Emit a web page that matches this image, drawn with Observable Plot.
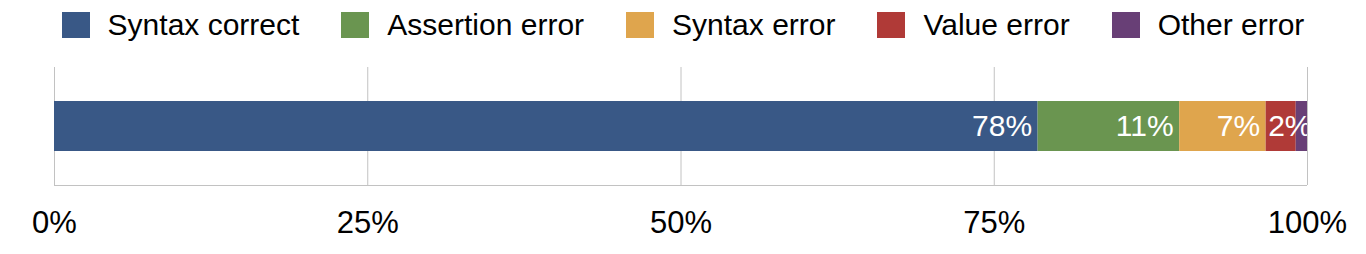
<!DOCTYPE html>
<html>
<head>
<meta charset="utf-8">
<script src="https://cdn.jsdelivr.net/npm/d3@7"></script>
<script src="https://cdn.jsdelivr.net/npm/@observablehq/plot@0.6"></script>
<style>
  html, body { margin: 0; padding: 0; background: #fff; }
  body { width: 1366px; height: 254px; overflow: hidden; font-family: "Liberation Sans", Arial, Helvetica, sans-serif; }
  #legend { height: 50px; box-sizing: border-box; padding-top: 8px; display: flex; justify-content: center; gap: 42px; }
  .item { display: flex; align-items: center; height: 34px; }
  .sw { width: 28px; height: 26px; margin-right: 18px; }
  .lab { font-size: 30px; line-height: 34px; color: #000; white-space: nowrap; }
</style>
</head>
<body>
<div id="legend"></div>
<div id="chart"></div>
<script>
const categories = ["Syntax correct", "Assertion error", "Syntax error", "Value error", "Other error"];
const values = [78.5, 11.3, 6.9, 2.4, 0.9];
const labels = ["78%", "11%", "7%", "2%", ""];
const colors = ["#395886", "#6a9550", "#dfa54d", "#b03a37", "#683f76"];
const ticks = [0, 25, 50, 75, 100];

const ends = d3.cumsum(values);
const rows = categories.map((c, i) => ({
  category: c, value: values[i], label: labels[i],
  x1: ends[i] - values[i], x2: ends[i]
}));

const legend = document.getElementById("legend");
categories.forEach((c, i) => {
  const it = document.createElement("div");
  it.className = "item";
  const sw = document.createElement("div");
  sw.className = "sw"; sw.style.background = colors[i];
  const lb = document.createElement("span");
  lb.className = "lab"; lb.textContent = c;
  it.appendChild(sw); it.appendChild(lb);
  legend.appendChild(it);
});

const wide = rows.filter(d => d.label && d.value >= 5);
const narrow = rows.filter(d => d.label && d.value < 5);

const chart = Plot.plot({
  width: 1366,
  height: 204,
  marginTop: 17,
  marginBottom: 69,
  marginLeft: 54,
  marginRight: 59,
  style: { fontFamily: "Liberation Sans, Arial, Helvetica, sans-serif", background: "#fff" },
  x: { domain: [0, 100], ticks: ticks, tickFormat: d => d + "%" },
  y: { domain: [0, 1], axis: null },
  color: { domain: categories, range: colors },
  marks: [
    Plot.ruleX(ticks, { stroke: "#c2c2c2", strokeWidth: 1 }),
    Plot.ruleY([0], { stroke: "#c2c2c2", strokeWidth: 1 }),
    Plot.barX(rows, { x1: "x1", x2: "x2", fill: "category", insetTop: 34, insetBottom: 34 }),
    Plot.text(wide, { x: "x2", y: 0.5, text: "label", textAnchor: "end", dx: -6, fill: "#fff", fontSize: 30 }),
    Plot.text(narrow, { x: "x1", y: 0.5, text: "label", textAnchor: "start", dx: 2, fill: "#fff", fontSize: 30, clip: true }),
    Plot.axisX({ ticks: ticks, tickFormat: d => d + "%", tickSize: 0, tickPadding: 25, fontSize: 31, fill: "#000", label: null })
  ]
});
document.getElementById("chart").appendChild(chart);
</script>
</body>
</html>
